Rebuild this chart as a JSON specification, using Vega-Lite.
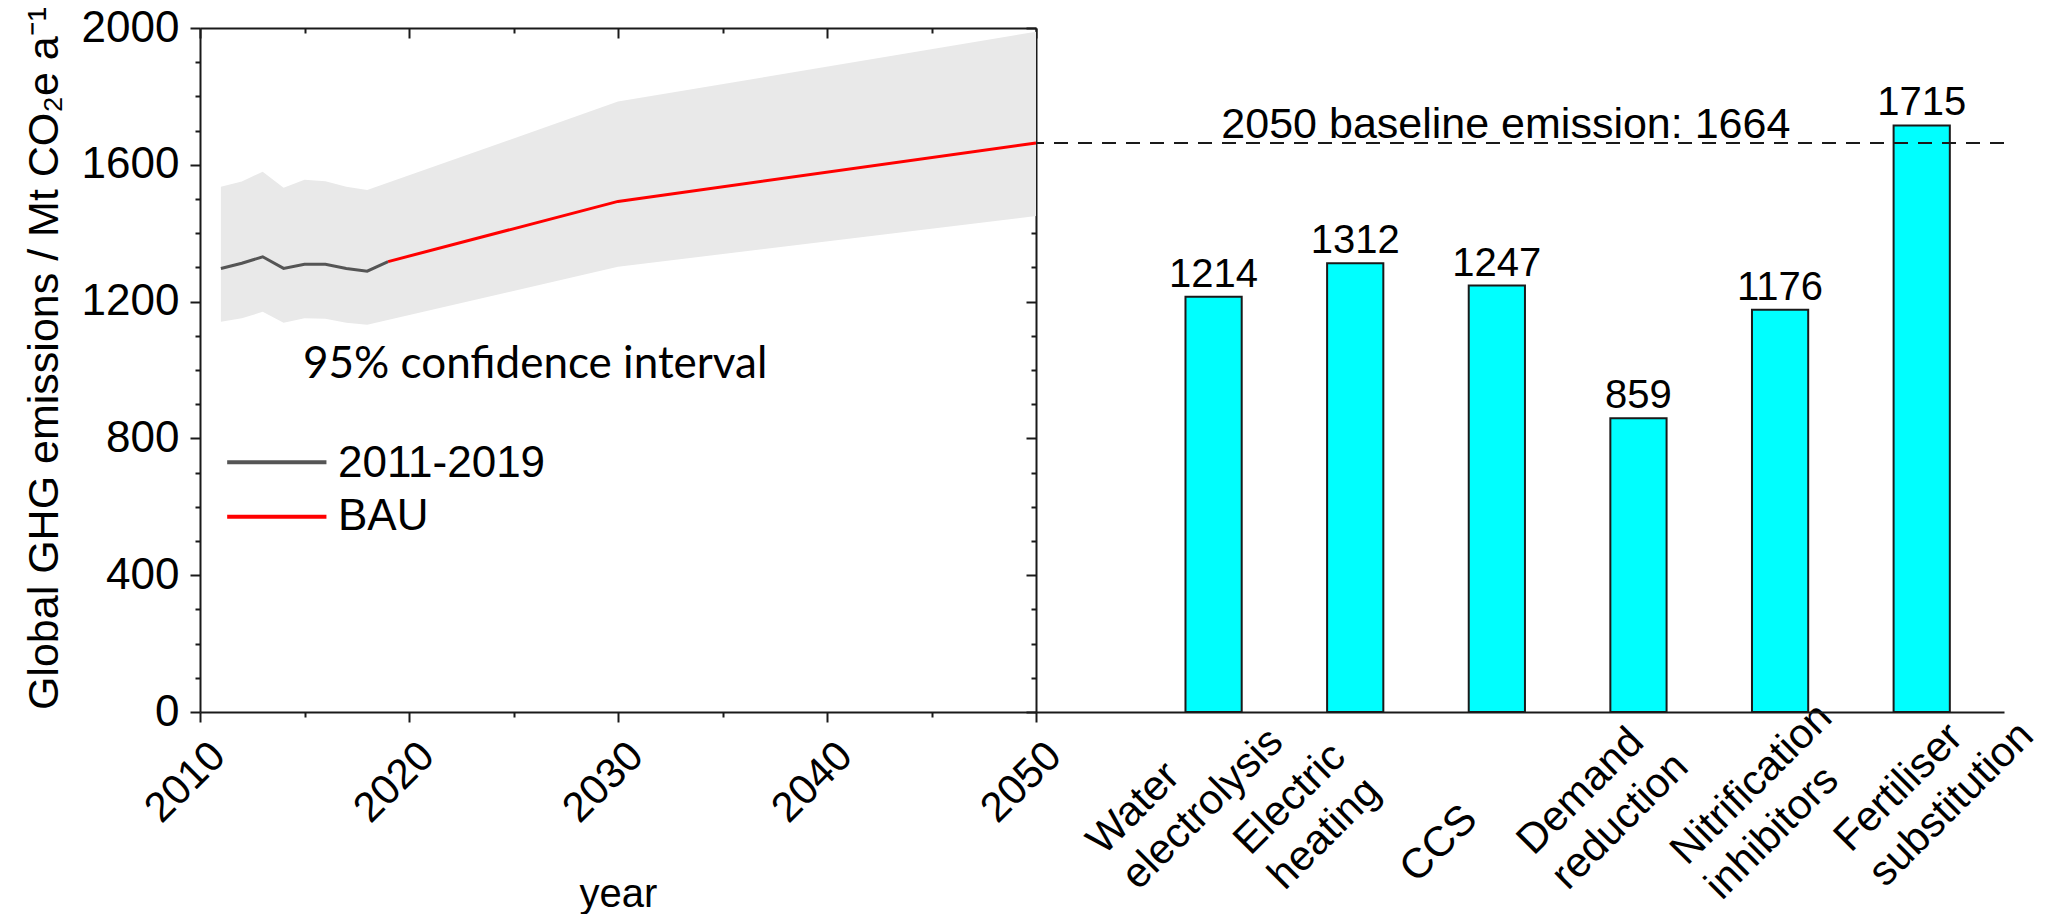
{
  "$schema": "https://vega.github.io/schema/vega-lite/v6.json",
  "background": "white",
  "padding": {"left": 23, "top": 6, "right": 0, "bottom": 0},
  "bounds": "flush",
  "spacing": 0,
  "config": {
    "view": {"stroke": null},
    "font": "Liberation Sans",
    "axis": {"grid": false, "labelFont": "Liberation Sans", "titleFont": "Liberation Sans", "labelColor": "#000000", "titleColor": "#000000", "domainColor": "#1a1a1a", "tickColor": "#1a1a1a", "domainWidth": 2, "tickWidth": 2, "titleFontWeight": "normal", "labelOverlap": false, "labelFlush": false, "labelBound": false}
  },
  "datasets": {
    "band": [
      {"year": 2011, "lo": 1141, "hi": 1536},
      {"year": 2012, "lo": 1151, "hi": 1551},
      {"year": 2013, "lo": 1170, "hi": 1580},
      {"year": 2014, "lo": 1138, "hi": 1533},
      {"year": 2015, "lo": 1151, "hi": 1556},
      {"year": 2016, "lo": 1150, "hi": 1552},
      {"year": 2017, "lo": 1138, "hi": 1536},
      {"year": 2018, "lo": 1132, "hi": 1526},
      {"year": 2030, "lo": 1302, "hi": 1785},
      {"year": 2050, "lo": 1450, "hi": 1989}
    ],
    "hist": [
      {"year": 2011, "value": 1297},
      {"year": 2012, "value": 1312},
      {"year": 2013, "value": 1331},
      {"year": 2014, "value": 1297},
      {"year": 2015, "value": 1309},
      {"year": 2016, "value": 1309},
      {"year": 2017, "value": 1297},
      {"year": 2018, "value": 1289},
      {"year": 2019, "value": 1317}
    ],
    "bau": [
      {"year": 2019, "value": 1317},
      {"year": 2030, "value": 1493},
      {"year": 2050, "value": 1664}
    ],
    "bars": [
      {"measure": "Water electrolysis", "value": 1214},
      {"measure": "Electric heating", "value": 1312},
      {"measure": "CCS", "value": 1247},
      {"measure": "Demand reduction", "value": 859},
      {"measure": "Nitrification inhibitors", "value": 1176},
      {"measure": "Fertiliser substitution", "value": 1715}
    ]
  },
  "hconcat": [
    {
      "width": 836,
      "height": 684,
      "resolve": {"axis": {"x": "independent", "y": "independent"}},
      "layer": [
        {
          "data": {"name": "band"},
          "mark": {"type": "area", "color": "#e9e9e9"},
          "encoding": {
            "x": {"field": "year", "type": "quantitative", "scale": {"domain": [2010, 2050], "nice": false, "zero": false},
              "axis": {"orient": "bottom", "values": [2010, 2020, 2030, 2040, 2050], "format": "d", "tickSize": 10, "labelAngle": -45, "labelAlign": "right", "labelBaseline": "alphabetic", "labelOffset": 27, "labelPadding": 36, "labelFontSize": 42, "title": "year", "titleFontSize": 40, "titlePadding": 45}},
            "y": {"field": "lo", "type": "quantitative", "scale": {"domain": [0, 2000], "nice": false, "zero": false},
              "axis": {"orient": "left", "values": [0, 400, 800, 1200, 1600, 2000], "format": "d", "tickSize": 10, "labelPadding": 11, "labelFontSize": 44, "title": "Global GHG emissions / Mt CO₂e a⁻¹", "titleFontSize": 43, "titlePadding": 15, "titleY": 330}},
            "y2": {"field": "hi"}
          }
        },
        {
          "data": {"name": "hist"},
          "mark": {"type": "line", "color": "#555555", "strokeWidth": 3},
          "encoding": {
            "x": {"field": "year", "type": "quantitative", "scale": {"domain": [2010, 2050], "nice": false, "zero": false},
              "axis": {"orient": "top", "values": [2010, 2020, 2030, 2040, 2050], "labels": false, "tickSize": -10, "title": null}},
            "y": {"field": "value", "type": "quantitative", "scale": {"domain": [0, 2000], "nice": false, "zero": false},
              "axis": {"orient": "right", "values": [0, 400, 800, 1200, 1600, 2000], "labels": false, "tickSize": -10, "title": null}}
          }
        },
        {
          "data": {"name": "bau"},
          "mark": {"type": "line", "color": "#ff0000", "strokeWidth": 3},
          "encoding": {
            "x": {"field": "year", "type": "quantitative", "scale": {"domain": [2010, 2050], "nice": false, "zero": false},
              "axis": {"orient": "bottom", "values": [2015, 2025, 2035, 2045], "labels": false, "domain": false, "tickSize": 5, "title": null}},
            "y": {"field": "value", "type": "quantitative", "scale": {"domain": [0, 2000], "nice": false, "zero": false},
              "axis": {"orient": "left", "values": [100, 200, 300, 500, 600, 700, 900, 1000, 1100, 1300, 1400, 1500, 1700, 1800, 1900], "labels": false, "domain": false, "tickSize": 5, "title": null}}
          }
        },
        {
          "data": {"values": [{}]},
          "mark": {"type": "rule", "color": "#555555", "strokeWidth": 4},
          "encoding": {
            "x": {"datum": 2011.3, "type": "quantitative", "scale": {"domain": [2010, 2050], "nice": false, "zero": false},
              "axis": {"orient": "top", "values": [2015, 2025, 2035, 2045], "labels": false, "domain": false, "tickSize": -5, "title": null}},
            "x2": {"datum": 2016.05},
            "y": {"datum": 730, "type": "quantitative", "scale": {"domain": [0, 2000], "nice": false, "zero": false},
              "axis": {"orient": "right", "values": [100, 200, 300, 500, 600, 700, 900, 1000, 1100, 1300, 1400, 1500, 1700, 1800, 1900], "labels": false, "domain": false, "tickSize": -5, "title": null}}
          }
        },
        {
          "data": {"values": [{}]},
          "mark": {"type": "rule", "color": "#ff0000", "strokeWidth": 4},
          "encoding": {
            "x": {"datum": 2011.3, "type": "quantitative", "axis": null},
            "x2": {"datum": 2016.05},
            "y": {"datum": 571, "type": "quantitative", "axis": null}
          }
        },
        {
          "data": {"values": [{}]},
          "mark": {"type": "text", "fontSize": 44, "align": "left", "baseline": "alphabetic", "color": "#000000"},
          "encoding": {
            "x": {"datum": 2016.6, "type": "quantitative", "axis": null},
            "y": {"datum": 686, "type": "quantitative", "axis": null},
            "text": {"value": "2011-2019"}
          }
        },
        {
          "data": {"values": [{}]},
          "mark": {"type": "text", "fontSize": 44, "align": "left", "baseline": "alphabetic", "color": "#000000"},
          "encoding": {
            "x": {"datum": 2016.6, "type": "quantitative", "axis": null},
            "y": {"datum": 532, "type": "quantitative", "axis": null},
            "text": {"value": "BAU"}
          }
        },
        {
          "data": {"values": [{}]},
          "mark": {"type": "text", "font": "Lato", "fontSize": 44, "align": "left", "baseline": "alphabetic", "color": "#000000"},
          "encoding": {
            "x": {"datum": 2014.93, "type": "quantitative", "axis": null},
            "y": {"datum": 976, "type": "quantitative", "axis": null},
            "text": {"value": "95% confidence interval"}
          }
        }
      ]
    },
    {
      "width": 968,
      "height": 684,
      "layer": [
        {
          "data": {"name": "bars"},
          "mark": {"type": "bar", "color": "#00ffff", "stroke": "#1a1a1a", "strokeWidth": 2},
          "encoding": {
            "x": {"field": "measure", "type": "nominal", "sort": null,
              "scale": {"paddingInner": 0.603, "paddingOuter": 0.719, "align": 0.734},
              "axis": {"orient": "bottom", "ticks": false, "tickSize": 0, "labelAngle": -45, "labelAlign": "left", "labelBaseline": "alphabetic",
                "labelOffset": {"expr": "datum.value == 'Fertiliser substitution' ? -71 : datum.value == 'Nitrification inhibitors' ? -93 : datum.value == 'CCS' ? -115 : datum.value == 'Water electrolysis' ? -110 : -105"},
                "labelPadding": {"expr": "datum.value == 'Fertiliser substitution' ? 141 : datum.value == 'Nitrification inhibitors' ? 154 : datum.value == 'CCS' ? 137 : 144"},
                "labelFontSize": 42, "labelLineHeight": 49, "labelLimit": 0, "labelExpr": "indexof(datum.label, ' ') < 0 ? ['', datum.label] : split(datum.label, ' ')", "title": null}},
            "y": {"field": "value", "type": "quantitative", "scale": {"domain": [0, 2000], "nice": false}, "axis": null}
          }
        },
        {
          "data": {"name": "bars"},
          "mark": {"type": "text", "fontSize": 40, "baseline": "alphabetic", "dy": -10, "color": "#000000"},
          "encoding": {
            "x": {"field": "measure", "type": "nominal", "sort": null},
            "y": {"field": "value", "type": "quantitative"},
            "text": {"field": "value", "type": "quantitative", "format": "d"}
          }
        },
        {
          "data": {"values": [{}]},
          "mark": {"type": "rule", "strokeDash": [14, 10], "strokeWidth": 2, "color": "#1a1a1a"},
          "encoding": {
            "y": {"datum": 1664, "type": "quantitative"}
          }
        },
        {
          "data": {"values": [{}]},
          "mark": {"type": "text", "fontSize": 43, "baseline": "alphabetic", "dx": 9, "dy": -5, "color": "#000000"},
          "encoding": {
            "x": {"datum": "CCS", "type": "nominal"},
            "y": {"datum": 1664, "type": "quantitative"},
            "text": {"value": "2050 baseline emission: 1664"}
          }
        }
      ]
    }
  ]
}
